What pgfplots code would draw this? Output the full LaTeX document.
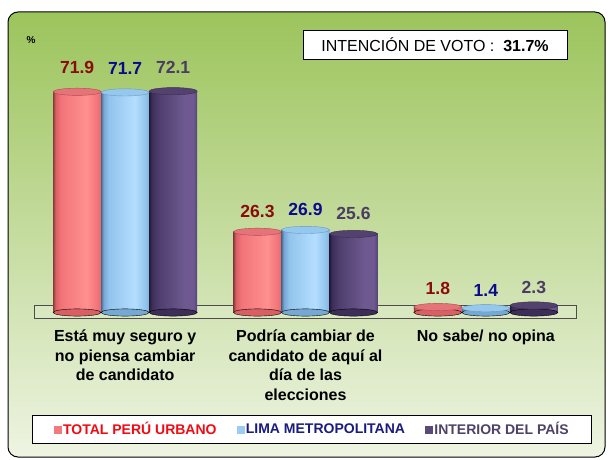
\documentclass[border=0pt]{standalone}
\usepackage{pgfplots}
\pgfplotsset{compat=1.18}
\usepackage{pgfplotstable}
\usepackage{fontspec}
\setmainfont{Liberation Sans}

\definecolor{bgTop}{HTML}{9CC45C}
\definecolor{bgBot}{HTML}{EEF4E2}
% red cylinder
\definecolor{redA}{HTML}{8C3C3E}
\definecolor{redB}{HTML}{D86064}
\definecolor{redC}{HTML}{F27478}
\definecolor{redD}{HTML}{FF9090}
\definecolor{redE}{HTML}{DE6C70}
\definecolor{redCap}{HTML}{E47478}
\definecolor{redCapE}{HTML}{B04A50}
% blue cylinder
\definecolor{bluA}{HTML}{4A6E90}
\definecolor{bluB}{HTML}{76A8D4}
\definecolor{bluC}{HTML}{92C4EC}
\definecolor{bluD}{HTML}{B4DEFF}
\definecolor{bluE}{HTML}{82B2DA}
\definecolor{bluCap}{HTML}{96C8EE}
\definecolor{bluCapE}{HTML}{6A98C0}
% purple cylinder
\definecolor{purA}{HTML}{241A38}
\definecolor{purB}{HTML}{3C2E58}
\definecolor{purC}{HTML}{4E3E6E}
\definecolor{purD}{HTML}{6E5A90}
\definecolor{purE}{HTML}{54447A}
\definecolor{purCap}{HTML}{54426E}
\definecolor{purCapE}{HTML}{3A2A52}
% texts
\definecolor{labRed}{HTML}{8B0A0A}
\definecolor{labBlu}{HTML}{0A0A8C}
\definecolor{labPur}{HTML}{4B3C64}
\definecolor{legRed}{HTML}{F00A14}
\definecolor{legBlu}{HTML}{1A1A80}
\definecolor{legPur}{HTML}{4E4266}
\definecolor{sqRed}{HTML}{F27A7E}
\definecolor{sqBlu}{HTML}{9CCCF6}
\definecolor{sqPur}{HTML}{5A4A7A}

\pgfdeclarehorizontalshading{redcyl}{100bp}{color(0bp)=(redA); color(25bp)=(redA); color(27.5bp)=(redB); color(33bp)=(redC); color(60bp)=(redD); color(71bp)=(redC); color(75bp)=(redE); color(100bp)=(redE)}
\pgfdeclarehorizontalshading{blucyl}{100bp}{color(0bp)=(bluA); color(25bp)=(bluA); color(27.5bp)=(bluB); color(33bp)=(bluC); color(60bp)=(bluD); color(71bp)=(bluC); color(75bp)=(bluE); color(100bp)=(bluE)}
\pgfdeclarehorizontalshading{purcyl}{100bp}{color(0bp)=(purA); color(25bp)=(purA); color(27.5bp)=(purB); color(35bp)=(purC); color(62bp)=(purD); color(71bp)=(purD); color(75bp)=(purE); color(100bp)=(purE)}

\pgfplotstableread{
x y
0 71.9
1 26.3
2 1.8
}\redT
\pgfplotstableread{
x y
0 71.7
1 26.9
2 1.4
}\bluT
\pgfplotstableread{
x y
0 72.1
1 25.6
2 2.3
}\purT

\pgfdeclareplotmark{cylcap}{\pgfpathellipse{\pgfpointorigin}{\pgfpoint{24pt}{0pt}}{\pgfpoint{0pt}{3.6pt}}\pgfusepathqfillstroke}

% one shaded bar per plot, so that each bar gets its own shading
% #1 table, #2 x offset, #3 shading prefix, #4 skip options
\newcommand\cylbar[4]{%
  \addplot[ybar, bar width=48pt, bar shift=0pt, draw=none,
    shade, shading=#3cyl, forget plot]
    table[x expr=\thisrow{x}+#2, y=y, #4] {#1};}

\pgfplotsset{
  valuelabel/.style={
    nodes near coords={\pgfmathprintnumber[fixed,fixed zerofill,precision=1]{\pgfplotspointmeta}},
    point meta=y,
    visualization depends on={11.85+0.0827*\thisrow{y} \as \labshift},
    nodes near coords style={anchor=base, yshift=\labshift, text=#1,
      font=\bfseries\fontsize{17.5}{18}\selectfont}}}

\begin{document}
\begin{tikzpicture}[x=1pt,y=1pt]
\useasboundingbox (0,0) rectangle (608,459);
\fill[white] (0,0) rectangle (608,459);
\shade[top color=bgTop, bottom color=bgBot, rounded corners=10pt] (8,2) rectangle (605,447);
\draw[black, line width=1pt, rounded corners=10pt] (8,2) rectangle (605,447);
\node[font=\bfseries\fontsize{10}{12}\selectfont] at (31,419) {\%};
\node[draw=black, fill=white, line width=0.8pt, minimum width=264pt, minimum height=29pt, inner sep=0pt, font=\fontsize{16}{18}\selectfont] at (435,414.5) {INTENCIÓN DE VOTO :\ \ \textbf{31.7\%}};
\draw[gray!60!black, line width=0.6pt, fill=white, fill opacity=0.15] (34,141) rectangle (576,154);
\begin{axis}[
  at={(35pt,146.5pt)}, anchor=south west, scale only axis,
  width=541pt, height=245.6pt,
  xmin=-0.5, xmax=2.5, ymin=0, ymax=80, clip=false,
  axis line style={draw=none}, ytick=\empty, xtick={0,1,2},
  major tick length=0pt,
  xticklabels={{Está muy seguro y\\no piensa cambiar\\de candidato},{Podría cambiar de\\candidato de aquí al\\día de las\\elecciones},{No sabe/ no opina}},
  xticklabel style={align=center, anchor=north, font=\bfseries\fontsize{16}{19.5}\selectfont, inner sep=0pt, yshift=-17.5pt},
  /pgf/number format/assume math mode=true,
  legend columns=3,
  legend cell align=left,
  legend style={at={(0.512,-0.4764)}, anchor=center, draw=black, line width=0.8pt, fill=white,
    font=\bfseries\fontsize{14}{16}\selectfont, inner xsep=21pt, inner ysep=5.5pt,
    nodes={inner sep=1.5pt},
    /tikz/every even column/.append style={column sep=18.5pt}},
]
% bottom caps
\addplot[only marks, mark=cylcap, mark options={fill=redB, draw=none}, forget plot]
  table[x expr=\thisrow{x}-0.2662, y expr=0] {\redT};
\addplot[only marks, mark=cylcap, mark options={fill=bluB, draw=none}, forget plot]
  table[x=x, y expr=0] {\bluT};
\addplot[only marks, mark=cylcap, mark options={fill=purB, draw=none}, forget plot]
  table[x expr=\thisrow{x}+0.2662, y expr=0] {\purT};
% bars
\cylbar{\redT}{-0.2662}{red}{skip coords between index={1}{3}}
\cylbar{\redT}{-0.2662}{red}{skip coords between index={0}{1}, skip coords between index={2}{3}}
\cylbar{\redT}{-0.2662}{red}{skip coords between index={0}{2}}
\cylbar{\bluT}{0}{blu}{skip coords between index={1}{3}}
\cylbar{\bluT}{0}{blu}{skip coords between index={0}{1}, skip coords between index={2}{3}}
\cylbar{\bluT}{0}{blu}{skip coords between index={0}{2}}
\cylbar{\purT}{0.2662}{pur}{skip coords between index={1}{3}}
\cylbar{\purT}{0.2662}{pur}{skip coords between index={0}{1}, skip coords between index={2}{3}}
\cylbar{\purT}{0.2662}{pur}{skip coords between index={0}{2}}
% top caps and value labels
\addplot[only marks, mark=cylcap, mark options={fill=redCap, draw=redCapE, line width=0.4pt}, forget plot, valuelabel=labRed]
  table[x expr=\thisrow{x}-0.2662, y=y] {\redT};
\addplot[only marks, mark=cylcap, mark options={fill=bluCap, draw=bluCapE, line width=0.4pt}, forget plot, valuelabel=labBlu]
  table[x=x, y=y] {\bluT};
\addplot[only marks, mark=cylcap, mark options={fill=purCap, draw=purCapE, line width=0.4pt}, forget plot, valuelabel=labPur]
  table[x expr=\thisrow{x}+0.2662, y=y] {\purT};
% legend
\addlegendimage{legend image code/.code={\fill[sqRed] (0pt,-3.5pt) rectangle (7pt,3.5pt);}}
\addlegendentry{\textcolor{legRed}{TOTAL PERÚ URBANO}}
\addlegendimage{legend image code/.code={\fill[sqBlu] (0pt,-3.5pt) rectangle (7pt,3.5pt);}}
\addlegendentry{\textcolor{legBlu}{LIMA METROPOLITANA}}
\addlegendimage{legend image code/.code={\fill[sqPur] (0pt,-3.5pt) rectangle (7pt,3.5pt);}}
\addlegendentry{\textcolor{legPur}{INTERIOR DEL PAÍS}}
\end{axis}
\end{tikzpicture}
\end{document}
